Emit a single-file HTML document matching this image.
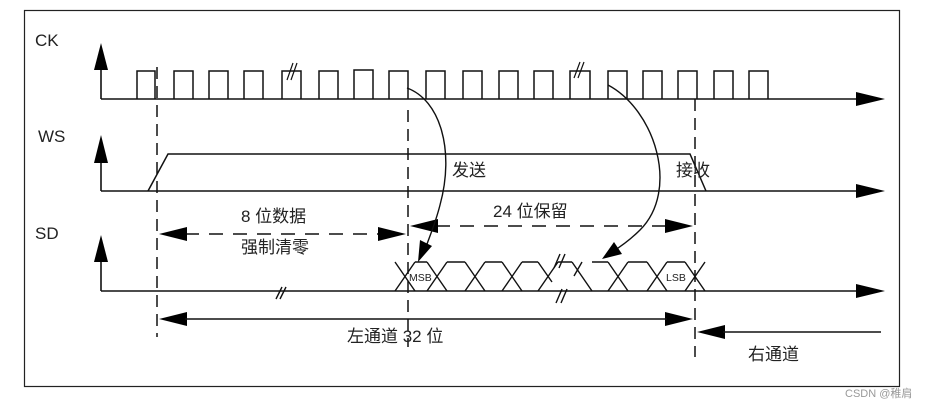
<!DOCTYPE html>
<html><head><meta charset="utf-8"><style>
html,body{margin:0;padding:0;background:#fff;width:928px;height:408px;overflow:hidden}
text{font-family:"Liberation Sans","Noto Sans CJK SC",sans-serif;fill:#222}
</style></head><body>
<svg width="928" height="408" viewBox="0 0 928 408" xmlns="http://www.w3.org/2000/svg">
<defs>
<marker id="ah" markerWidth="10" markerHeight="8" refX="10" refY="4" orient="auto" markerUnits="userSpaceOnUse" viewBox="0 0 10 8"><path d="M0,0 L10,4 L0,8 Z" fill="#000"/></marker>
</defs>
<rect x="24.5" y="10.5" width="875" height="376" fill="none" stroke="#222" stroke-width="1.2"/>
<g stroke="#111" stroke-width="1.6" fill="none">
<!-- axes -->
<path d="M101,99 V68 M101,191 V160 M101,291 V260"/>
<path d="M101,99 H858 M101,191 H858 M101,291 H858"/>
</g>
<g fill="#000">
<path d="M94,70 L101,43 L108,70 Z"/><path d="M94,163 L101,135 L108,163 Z"/><path d="M94,262 L101,235 L108,262 Z"/>
<path d="M856,92 L885,99 L856,106 Z"/><path d="M856,184 L885,191 L856,198 Z"/><path d="M856,284 L885,291 L856,298 Z"/>
</g>
<!-- clock -->
<path stroke="#111" stroke-width="1.5" fill="none" d="M137,99 V71 H155 V99 M174,99 V71 H193 V99 M209,99 V71 H228 V99 M244,99 V71 H263 V99 M282,99 V71 H301 V99 M319,99 V71 H338 V99 M354,99 V70 H373 V99 M389,99 V71 H408 V99 M426,99 V71 H445 V99 M463,99 V71 H482 V99 M499,99 V71 H518 V99 M534,99 V71 H553 V99 M570,99 V71 H590 V99 M608,99 V71 H627 V99 M643,99 V71 H662 V99 M678,99 V71 H697 V99 M714,99 V71 H733 V99 M749,99 V71 H768 V99"/>
<path stroke="#111" stroke-width="1.2" d="M287,80 L293,63 M291,80 L297,63 M574,78 L580,62 M578,78 L584,62"/>
<!-- WS -->
<path stroke="#111" stroke-width="1.5" fill="none" d="M148,191 L168,154 H690 L706,191"/>
<!-- dashed verticals -->
<g stroke="#111" stroke-width="1.5" stroke-dasharray="12,7">
<path d="M157,67 V337 M408,110 V347 M695,99 V357"/>
</g>
<!-- SD data -->
<g stroke="#111" stroke-width="1.4" fill="none">
<path d="M395,291 L415,262 M395,262 L415,291 M427,291 L447,262 M427,262 L447,291 M465,291 L485,262 M465,262 L485,291 M502,291 L522,262 M502,262 L522,291 M538,291 L558,262 M538,262 L552,282 M574,276 L582,262 M572,262 L592,291 M608,291 L628,262 M608,262 L628,291 M647,291 L667,262 M647,262 L667,291 M685,291 L705,262 M685,262 L705,291"/>
<path d="M415,262 H427 M447,262 H465 M485,262 H502 M522,262 H538 M558,262 H572 M592,262 H608 M628,262 H647 M667,262 H685"/>
<path d="M554,268 L560,254 M559,268 L565,254 M556,303 L562,289 M561,303 L567,289 M276,299 L282,287 M280,299 L286,287"/>
</g>
<text x="409" y="281" font-size="10.5">MSB</text>
<text x="666" y="281" font-size="10.5">LSB</text>
<!-- dashed dimension arrows -->
<g stroke="#111" stroke-width="1.5" stroke-dasharray="14,10">
<path d="M185,234 H380 M436,226 H667"/>
</g>
<g fill="#000">
<path d="M159,234 L187,227 L187,241 Z"/><path d="M406,234 L378,227 L378,241 Z"/>
<path d="M410,226 L438,219 L438,233 Z"/><path d="M693,226 L665,219 L665,233 Z"/>
<path d="M159,319 L187,312 L187,326 Z"/><path d="M693,319 L665,312 L665,326 Z"/>
<path d="M697,332 L725,325 L725,339 Z"/>
</g>
<path stroke="#111" stroke-width="1.5" d="M185,319 H667 M723,332 H881"/>
<!-- curves -->
<g stroke="#111" stroke-width="1.4" fill="none">
<path d="M407,88 C440,100 455,150 440,205 C435,225 428,240 425,250"/>
<path d="M608,85 C655,110 680,190 640,230 C630,240 620,247 612,252"/>
</g>
<g fill="#000"><path d="M418,262 L420,240 L432,246 Z"/><path d="M602,259 L614,242 L622,254 Z"/></g>
<!-- labels -->
<g font-size="17">
<text x="35" y="46">CK</text>
<text x="38" y="142">WS</text>
<text x="35" y="239">SD</text>
</g>
<g font-size="17">
<text x="452" y="176">发送</text>
<text x="676" y="176">接收</text>
<text x="241" y="222">8 位数据</text>
<text x="241" y="253">强制清零</text>
<text x="493" y="217">24 位保留</text>
<text x="347" y="342">左通道 32 位</text>
<text x="748" y="360">右通道</text>
</g>
<text x="845" y="397" font-size="11" style="fill:#999">CSDN @稚肩</text>
</svg>
</body></html>
